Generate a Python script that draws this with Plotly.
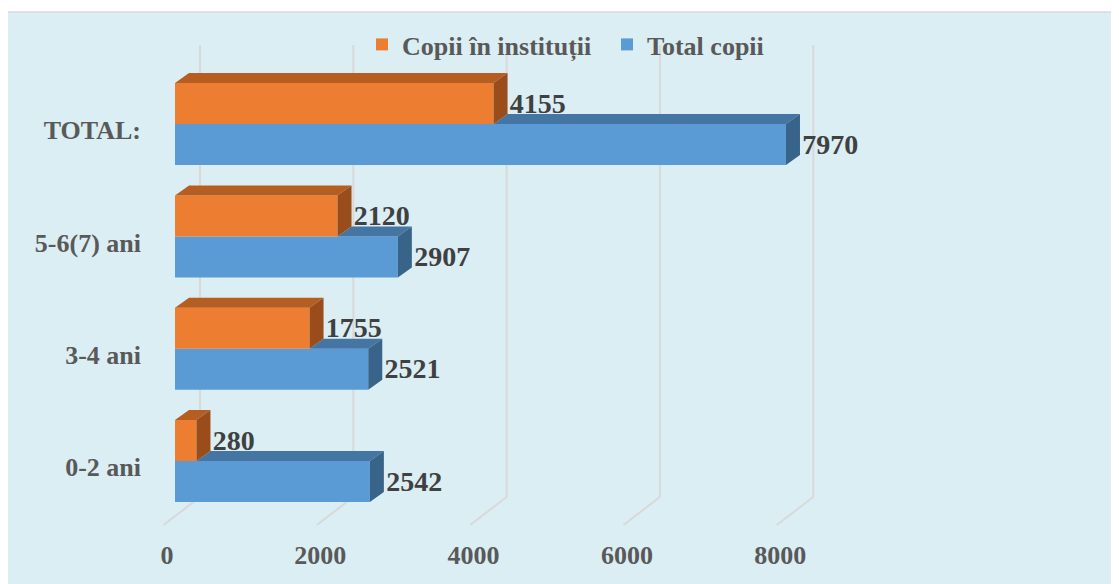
import plotly.graph_objects as go

# Data
categories = ["0-2 ani", "3-4 ani", "5-6(7) ani", "TOTAL:"]
copii_institutii = [280, 1755, 2120, 4155]
total_copii = [2542, 2521, 2907, 7970]
x_ticks = [0, 2000, 4000, 6000, 8000]

# Geometry of the fake 3D look (pixels converted to axis units)
PX_X = 0.07666          # pixels per unit on x
PX_Y = 112.3            # pixels per category on y
DX = 14 / PX_X          # bar depth, x
DY = 10 / PX_Y          # bar depth, y
BAR_H = 0.365
WALL_DX = 25 / PX_X     # back wall shift
FLOOR_DX = 150          # front floor shift
Y_FLOOR_FRONT = (453 - 517) / PX_Y
Y_FLOOR_BACK = (453 - 489) / PX_Y
Y_WALL_TOP = (453 - 37) / PX_Y

ORANGE, ORANGE_TOP, ORANGE_SIDE = "#ED7D31", "#B65E22", "#9A4D1A"
BLUE, BLUE_TOP, BLUE_SIDE = "#5B9BD5", "#4475A3", "#386489"
FONT = "Liberation Serif, Times New Roman, serif"

fig = go.Figure()

# gridlines: floor + back wall (shapes stay under the bars)
grid = []
for v in x_ticks:
    grid.append(dict(type="line", xref="x", yref="y", x0=v - FLOOR_DX, y0=Y_FLOOR_FRONT,
                     x1=v + WALL_DX, y1=Y_FLOOR_BACK, line=dict(color="#D9D9D9", width=2), layer="below"))
    grid.append(dict(type="line", xref="x", yref="y", x0=v + WALL_DX, y0=Y_FLOOR_BACK,
                     x1=v + WALL_DX, y1=Y_WALL_TOP, line=dict(color="#D9D9D9", width=2), layer="below"))


def faces(values, base, start):
    tx, ty, sx, sy = [], [], [], []
    for i, v in enumerate(values):
        b = i + base
        t = b + BAR_H
        s = start[i]
        tx += [s, v, v + DX, s + DX, s, None]
        ty += [t, t, t + DY, t + DY, t, None]
        sx += [v, v + DX, v + DX, v, v, None]
        sy += [b, b + DY, t + DY, t, b, None]
    return tx, ty, sx, sy


def add_series(values, base, name, front, top, side, rank, start):
    fig.add_trace(go.Bar(
        y=[i + base + BAR_H / 2 for i in range(len(values))], x=values,
        orientation="h", width=BAR_H, name=name, legendrank=rank,
        marker=dict(color=front, line=dict(width=0)),
    ))
    tx, ty, sx, sy = faces(values, base, start)
    fig.add_trace(go.Scatter(x=tx, y=ty, fill="toself", fillcolor=top, mode="lines",
                             line=dict(width=0, color=top), showlegend=False, hoverinfo="skip"))
    fig.add_trace(go.Scatter(x=sx, y=sy, fill="toself", fillcolor=side, mode="lines",
                             line=dict(width=0, color=side), showlegend=False, hoverinfo="skip"))
    fig.add_trace(go.Scatter(
        x=[v + DX + 30 for v in values],
        y=[i + base + BAR_H / 2 - 0.02 for i in range(len(values))],
        mode="text", text=[str(v) for v in values], textposition="middle right",
        textfont=dict(family=FONT, size=28, color="#404040", weight="bold"),
        showlegend=False, hoverinfo="skip",
    ))


# blue top face is hidden behind the orange bar, so it starts where orange ends
add_series(total_copii, -BAR_H, "Total copii", BLUE, BLUE_TOP, BLUE_SIDE, 2, copii_institutii)
add_series(copii_institutii, 0, "Copii în instituții", ORANGE, ORANGE_TOP, ORANGE_SIDE, 1,
           [0] * len(copii_institutii))

fig.update_layout(
    width=1111, height=576,
    margin=dict(l=142, r=0, t=0, b=54),
    barmode="overlay",
    paper_bgcolor="white",
    plot_bgcolor="rgba(0,0,0,0)",
    font=dict(family=FONT, color="#595959"),
    shapes=[dict(type="rect", xref="paper", yref="paper",
                 x0=-0.16, x1=1.02, y0=-0.2, y1=(522 - 4) / 522,
                 fillcolor="#DAEEF3", line=dict(color="#D9D9D9", width=1.5), layer="below")] + grid,
    legend=dict(orientation="h", x=(354 - 142) / 969, xanchor="left",
                y=(522 - 13) / 522, yanchor="top", bgcolor="rgba(0,0,0,0)",
                entrywidth=200, entrywidthmode="pixels",
                font=dict(size=26, color="#595959", weight="bold"), traceorder="normal"),
    xaxis=dict(range=[-25 / PX_X, 944 / PX_X], showgrid=False, zeroline=False,
               showline=False, tickvals=[v - 105 for v in x_ticks], ticktext=[str(v) for v in x_ticks],
               tickfont=dict(size=26, weight="bold", color="#595959"), ticklabelstandoff=7),
    yaxis=dict(range=[(453 - 522) / PX_Y, 453 / PX_Y], showgrid=False, zeroline=False,
               showline=False, tickvals=[i - 0.055 for i in range(len(categories))],
               ticktext=categories,
               tickfont=dict(size=26, weight="bold", color="#595959"), ticklabelstandoff=8),
)

fig.write_html("out.html")
